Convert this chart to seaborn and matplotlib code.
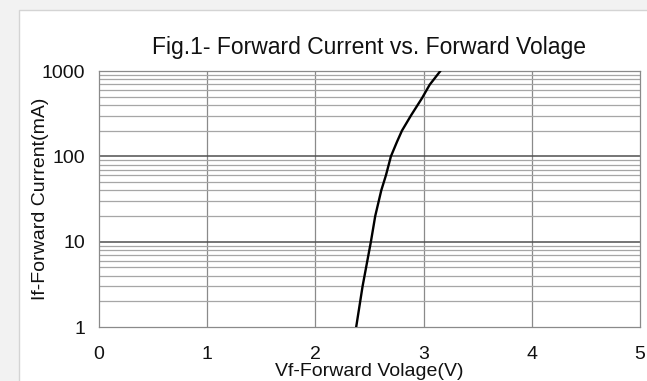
import matplotlib
matplotlib.use("Agg")
import matplotlib.pyplot as plt
from matplotlib.patches import Rectangle
import seaborn as sns
import numpy as np
import pandas as pd

# ---- data ----
vf = [2.377, 2.436, 2.513, 2.553, 2.609, 2.652, 2.698, 2.754, 2.80, 2.886, 2.985, 3.056, 3.155]
if_ma = [1, 3, 10, 20, 40, 60, 100, 148, 200, 305, 480, 690, 1000]
x_ticks = [0, 1, 2, 3, 4, 5]
y_ticks = [1, 10, 100, 1000]
y_tick_labels = ["1", "10", "100", "1000"]
title = "Fig.1- Forward Current vs. Forward Volage"
x_label = "Vf-Forward Volage(V)"
y_label = "If-Forward Current(mA)"

sns.set_theme(style="white")
plt.rcParams['font.family'] = ['Liberation Sans', 'DejaVu Sans']

fig = plt.figure(figsize=(6.47, 3.81), dpi=100)
fig.patch.set_facecolor('#f2f2f2')
panel = Rectangle((19/647, -0.01), 1, 1.01 - 10/381, transform=fig.transFigure,
                  facecolor='white', edgecolor='#d4d4d4', linewidth=1.0, zorder=-10)
fig.add_artist(panel)

ax = fig.add_axes([99/647, 1 - 327/381, (640-99)/647, (327-71)/381])
ax.set_zorder(2)
ax.set_facecolor('white')

df = pd.DataFrame({"Vf": vf, "If": if_ma})
ax.set_yscale('log')
sns.lineplot(data=df, x="Vf", y="If", ax=ax, color='black', linewidth=1.7, sort=False, zorder=5)

ax.set_xlim(0, 5)
ax.set_ylim(1, 1000)

# grid
for xv in x_ticks[1:-1]:
    ax.axvline(xv, color='#8a8a8a', linewidth=0.9, zorder=1)
for dec in [1, 10, 100]:
    for m in range(2, 10):
        ax.axhline(dec * m, color='#a6a6a6', linewidth=0.9, zorder=1)
for yv in [10, 100]:
    ax.axhline(yv, color='#505050', linewidth=1.1, zorder=2)

for s in ax.spines.values():
    s.set_color('#8a8a8a')
    s.set_linewidth(0.9)

ax.set_xticks(x_ticks)
ax.set_xticklabels([str(t) for t in x_ticks])
ax.set_yticks(y_ticks)
ax.set_yticklabels(y_tick_labels)
ax.yaxis.set_minor_locator(matplotlib.ticker.NullLocator())
ax.tick_params(axis='both', length=0, labelsize=14, colors='#111111')
ax.tick_params(axis='x', pad=13.5)
ax.tick_params(axis='y', pad=10)

ax.set_xlabel(x_label, fontsize=14, labelpad=0, color='#111111')
ax.set_ylabel(y_label, fontsize=14, labelpad=-5.5, color='#111111')
ax.set_title(title, fontsize=16.5, pad=12, color='#111111')

fig.savefig("out.png", dpi=100, facecolor=fig.get_facecolor())
